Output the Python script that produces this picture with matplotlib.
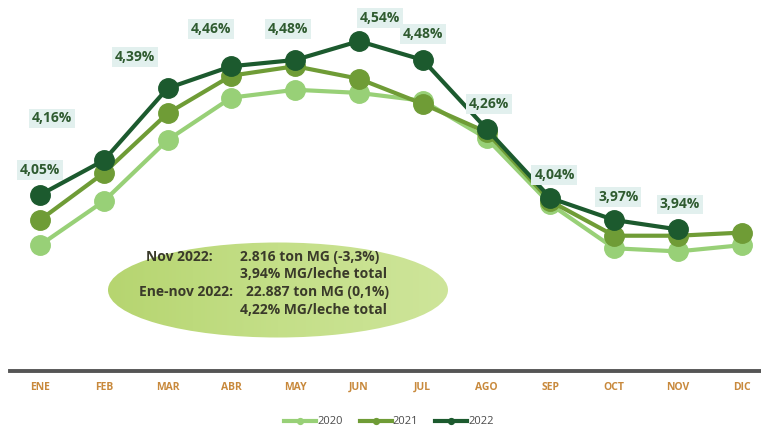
import numpy as np
import matplotlib
matplotlib.use("Agg")
import matplotlib.pyplot as plt
from matplotlib.patches import Ellipse
from matplotlib.colors import LinearSegmentedColormap

plt.rcParams['font.family'] = ['Open Sans', 'DejaVu Sans']

months = ["ENE", "FEB", "MAR", "ABR", "MAY", "JUN", "JUL", "AGO", "SEP", "OCT", "NOV", "DIC"]
y2020 = [3.89, 4.03, 4.225, 4.36, 4.385, 4.375, 4.35, 4.23, 4.02, 3.88, 3.87, 3.89]
y2021 = [3.97, 4.12, 4.31, 4.43, 4.46, 4.42, 4.34, 4.25, 4.03, 3.92, 3.92, 3.93]
y2022 = [4.05, 4.16, 4.39, 4.46, 4.48, 4.54, 4.48, 4.26, 4.04, 3.97, 3.94, np.nan]
labels2022 = ["4,05%", "4,16%", "4,39%", "4,46%", "4,48%", "4,54%", "4,48%", "4,26%", "4,04%", "3,97%", "3,94%"]
series_names = ["2020", "2021", "2022"]
box_lines = [("Nov 2022:", "2.816 ton MG (-3,3%)"),
             ("", "3,94% MG/leche total"),
             ("Ene-nov 2022:", "22.887 ton MG (0,1%)"),
             ("", "4,22% MG/leche total")]

W, H = 761, 429
fig = plt.figure(figsize=(W / 100, H / 100), dpi=100)

# gradient ellipse (background overlay axes)
bg = fig.add_axes([0, 0, 1, 1], zorder=0)
bg.set_xlim(0, W)
bg.set_ylim(H, 0)
bg.axis('off')
ell = Ellipse((278, 290), 340, 95, fc='none', ec='none')
bg.add_patch(ell)
grad = np.linspace(0, 1, 256)[None, :]
cmap = LinearSegmentedColormap.from_list('g', ['#B6D570', '#C4DF88', '#CEE59A'])
im = bg.imshow(grad, extent=(108, 448, 338, 242), cmap=cmap, aspect='auto')
im.set_clip_path(ell)

ax = fig.add_axes([10 / W, 1 - 371 / H, 1 - 10 / W, 371 / H], zorder=1)
ax.patch.set_alpha(0)
ax.set_xlim(-0.47, 11.30)
ax.set_ylim(3.489, 4.671)

colors = ["#98D077", "#6F9C36", "#1C5A2E"]
x = np.arange(len(months))
handles = []
for vals, c, name, z in zip([y2020, y2021, y2022], colors, series_names, [3, 4, 5]):
    h, = ax.plot(x, vals, color=c, lw=3, marker='o', ms=14, mec=c, mfc=c,
                 zorder=z, label=name)
    handles.append(h)

offsets = [(0, 25), (-52, 42), (-33, 31), (-20, 37), (-7, 31), (21, 23),
           (0, 26), (2, 25), (4, 23), (4, 23), (2, 25)]
for i, (lab, off) in enumerate(zip(labels2022, offsets)):
    ax.annotate(lab, (x[i], y2022[i]), xytext=off, textcoords='offset pixels',
                ha='center', va='center', fontsize=10, fontweight='bold',
                color='#2F5B30', zorder=6,
                bbox=dict(boxstyle='square,pad=0.2', fc='#E2F0EE', ec='none'))

for s in ['top', 'left', 'right']:
    ax.spines[s].set_visible(False)
ax.spines['bottom'].set_color('#555555')
ax.spines['bottom'].set_linewidth(2.8)
ax.set_yticks([])
ax.set_xticks(x)
ax.set_xticklabels(months, color='#C8893C', fontsize=7.5, fontweight='bold')
ax.tick_params(axis='x', length=0, pad=8)

lefts = [146, None, 139, None]
rights = [240, 240, 246, 240]
ys = [257, 274, 292, 310]
for (l, r), yy, lx, rx in zip(box_lines, ys, lefts, rights):
    if l:
        fig.text(lx / W, 1 - yy / H, l, fontsize=10, fontweight='bold',
                 color='#3A3A2A', va='center', ha='left', zorder=3)
    fig.text(rx / W, 1 - yy / H, r, fontsize=10, fontweight='bold',
             color='#3A3A2A', va='center', ha='left', zorder=3)

leg = fig.legend(handles=handles, loc='center', bbox_to_anchor=(389 / W, 1 - 422 / H),
                 ncol=3, frameon=False, fontsize=8, handlelength=2.9,
                 handletextpad=0.1, columnspacing=1.5, markerscale=0.3,
                 borderpad=0)
for t in leg.get_texts():
    t.set_color('#4A4A4A')

fig.savefig("out.png", dpi=100)
